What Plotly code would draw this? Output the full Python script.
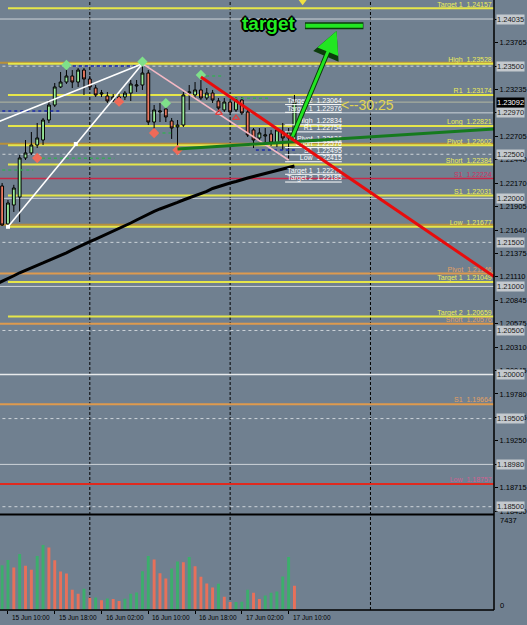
import plotly.graph_objects as go

# ---------------- data ----------------
bar_hours = [9, 10, 11, 12, 13, 14, 15, 16, 17, 18, 19, 20, 21, 22, 23, 24, 25, 26, 27, 28,
             29, 30, 31, 32, 33, 34, 35, 36, 37, 38, 39, 40, 41, 42, 43, 44, 45, 46, 47, 48,
             49, 50, 51, 52, 53, 54, 55, 56, 57, 58, 59]
opens = [1.22140, 1.21709, 1.21924, 1.22015, 1.22458, 1.22515, 1.22605, 1.22662, 1.22889, 1.23059,
         1.23264, 1.23320, 1.23388, 1.23320, 1.23456, 1.23354, 1.23252, 1.23184, 1.23161, 1.23116,
         1.23150, 1.23150, 1.23195, 1.23275, 1.23286, 1.23422, 1.22866, 1.22980, 1.23014, 1.22878,
         1.22810, 1.22832, 1.23195, 1.23173, 1.23230, 1.23139, 1.23195, 1.23105, 1.23003, 1.23093,
         1.23003, 1.23116, 1.22980, 1.22776, 1.22685, 1.22707, 1.22730, 1.22628, 1.22753, 1.22685,
         1.22662]
highs = [1.22174, 1.21981, 1.22153, 1.22492, 1.22662, 1.22753, 1.22855, 1.22912, 1.23116, 1.23309,
         1.23434, 1.23479, 1.23456, 1.23479, 1.23479, 1.23388, 1.23286, 1.23230, 1.23207, 1.23184,
         1.23184, 1.23218, 1.23343, 1.23343, 1.23528, 1.23456, 1.23059, 1.23082, 1.23059, 1.22912,
         1.22889, 1.23207, 1.23286, 1.23320, 1.23366, 1.23252, 1.23230, 1.23139, 1.23139, 1.23116,
         1.23150, 1.23150, 1.23003, 1.22798, 1.22798, 1.22798, 1.22776, 1.22798, 1.22855, 1.22798,
         1.23173]
lows = [1.21686, 1.21677, 1.21845, 1.21731, 1.22435, 1.22492, 1.22571, 1.22605, 1.22855, 1.23037,
        1.23252, 1.23298, 1.23252, 1.23264, 1.23173, 1.23230, 1.23150, 1.23150, 1.23082, 1.23093,
        1.23116, 1.23116, 1.23105, 1.23207, 1.23230, 1.22832, 1.22742, 1.22866, 1.22866, 1.22674,
        1.22560, 1.22810, 1.23003, 1.23139, 1.23116, 1.23116, 1.23082, 1.22980, 1.22980, 1.22946,
        1.22980, 1.22946, 1.22696, 1.22571, 1.22640, 1.22628, 1.22594, 1.22583, 1.22549, 1.22449,
        1.22640]
closes = [1.21697, 1.21947, 1.22117, 1.22458, 1.22515, 1.22605, 1.22685, 1.22889, 1.23059, 1.23264,
          1.23320, 1.23388, 1.23320, 1.23456, 1.23354, 1.23264, 1.23173, 1.23195, 1.23105, 1.23150,
          1.23127, 1.23195, 1.23298, 1.23286, 1.23422, 1.22866, 1.23003, 1.22991, 1.22923, 1.22798,
          1.22832, 1.23173, 1.23207, 1.23230, 1.23139, 1.23195, 1.23116, 1.23025, 1.23093, 1.22980,
          1.23116, 1.22969, 1.22719, 1.22662, 1.22742, 1.22719, 1.22628, 1.22776, 1.22685, 1.22753,
          1.23092]
volumes = [3807, 4258, 3610, 4766, 3751, 3412, 4597, 5527, 5302, 4230,
           3271, 3102, 1720, 1382, 1805, 1043, 1060, 818, 987, 931,
           761, 959, 1382, 1495, 3299, 4597, 4286, 3130, 2679, 3525,
           4117, 4061, 4512, 3722, 2820, 2256, 1918, 2228, 1128, 677,
           690, 705, 1720, 1466, 931, 1241, 1466, 1579, 2848, 4512, 2059]
vol_dir = ["g", "g", "r", "g", "r", "r", "g", "g", "r", "r",
           "r", "r", "r", "r", "g", "r", "g", "r", "g", "r",
           "r", "g", "g", "g", "g", "g", "r", "r", "r", "g",
           "g", "r", "g", "r", "r", "r", "r", "g", "r", "r",
           "g", "g", "g", "r", "r", "g", "g", "g", "g", "g", "r"]
vol_max_label = 7437

ma_hours = [8, 9, 10, 11, 12, 13, 14, 15, 16, 17, 18, 19, 20, 21, 22, 23, 24, 25, 26, 27,
            28, 29, 30, 31, 32, 33, 34, 35, 36, 37, 38, 39, 40, 41, 42, 43, 44, 45, 46, 47,
            48, 49, 50, 51, 52, 53, 54, 55, 56, 57, 58, 59]
ma_values = [1.21028, 1.21056, 1.21090, 1.21121, 1.21155, 1.21181, 1.21209, 1.21238, 1.21266, 1.21296,
             1.21323, 1.21351, 1.21382, 1.21414, 1.21448, 1.21476, 1.21508, 1.21538, 1.21567, 1.21601,
             1.21629, 1.21658, 1.21686, 1.21720, 1.21754, 1.21788, 1.21822, 1.21851, 1.21879, 1.21902,
             1.21924, 1.21953, 1.21981, 1.22004, 1.22026, 1.22049, 1.22078, 1.22112, 1.22134, 1.22157,
             1.22174, 1.22191, 1.22214, 1.22231, 1.22248, 1.22265, 1.22282, 1.22299, 1.22316, 1.22333,
             1.22350, 1.22367]

tick_prices = [1.24035, 1.23765, 1.23500, 1.23235, 1.22970, 1.22705, 1.22440, 1.22170, 1.21905,
               1.21640, 1.21375, 1.21110, 1.20845, 1.20575, 1.20310, 1.20045, 1.19780, 1.19515,
               1.19250, 1.18980, 1.18715, 1.18450]
solid_lines = [1.24035, 1.22970, 1.22000, 1.21000, 1.20000, 1.18980]
dashed_lines = [1.23500, 1.22500, 1.21500, 1.20500, 1.19500, 1.18500]
bid_price = 1.23092

level_names = ["Target 1", "High", "R1", "Long", "Pivot", "Short", "S1", "S1", "Low",
               "Pivot", "Target 1", "Target 2", "Short", "S1", "Low"]
level_values = [1.24157, 1.23528, 1.23174, 1.22821, 1.22602, 1.22384, 1.22224, 1.22031, 1.21677,
                1.21146, 1.21049, 1.20659, 1.20576, 1.19664, 1.18757]
level_kind = ["y", "y", "y", "y", "y", "y", "c", "y", "y", "o", "y", "y", "o", "o", "r"]

mini_names = ["Target 2", "Target 1", "High", "R1", "Pivot", "Short", "S1", "Low", "Target 1", "Target 2"]
mini_values = [1.23064, 1.22976, 1.22834, 1.22754, 1.22636, 1.22576, 1.22495, 1.22415, 1.22273, 1.22185]

x_tick_hours = [10, 18, 26, 34, 42, 50, 58]
x_tick_labels = ["15 Jun 10:00", "15 Jun 18:00", "16 Jun 02:00", "16 Jun 10:00",
                 "16 Jun 18:00", "17 Jun 02:00", "17 Jun 10:00"]
day_sep_hours = [24, 48, 72]

frac_up_h = [20, 33, 37, 43]
frac_up_p = [1.23513, 1.23551, 1.23079, 1.23400]
frac_dn_h = [15, 29, 35, 39]
frac_dn_p = [1.22458, 1.23097, 1.22742, 1.22549]
arrow_mark_h = [46.1, 49.0]
arrow_mark_p = [1.22969, 1.22912]

# fractal dotted levels: (start hour, end hour, price, colour key)
dotted_levels = [(20.1, 32.5, 1.23502, "b"), (8.0, 18.9, 1.22991, "b"), (15.8, 28.2, 1.22454, "g"),
                 (8.0, 14.3, 1.22322, "g"), (35.4, 37.9, 1.22742, "g"), (43.9, 47.0, 1.23388, "g"),
                 (47.8, 54.6, 1.23135, "g"), (52.4, 59.2, 1.22549, "b")]

zig_a_h, zig_a_p = [8.0, 33], [1.22860, 1.23528]
zig_b_h, zig_b_p = [10, 33], [1.21677, 1.23528]
zig_pts_h, zig_pts_p = [10, 21.6, 33], [1.21677, 1.22617, 1.23528]
pink_h, pink_p = [33, 58], [1.23528, 1.22435]
red_h, red_p = [43, 93.2], [1.23377, 1.21110]
green_h, green_p = [39, 93.2], [1.22560, 1.22787]

arrow_tail = (58.55, 1.22685)
arrow_tip = (66.2, 1.23899)
target_text_pos = (54.6, 1.23979)
target_bar_h, target_bar_p = [60.8, 70.8], 1.23959
timer_text, timer_pos = "<--30:25", (71.5, 1.23059)
top_tri = (60.4, 1.24232)

# ---------------- layout constants ----------------
W, H = 527, 625
MR, MB = 31, 15
PH = H - MB               # plot-area height (610)
X_RANGE = [8.637, 93.13]
Y_RANGE = [1.18417, 1.24251]
MAIN_BOTTOM_PX = 514
VOL_TOP_PX = 515.5
VOL_RANGE = [0, 8030]

BG = "#708090"
YEL = "#e6e64a"
ORG = "#de9a4e"
CRIM = "#c8284a"
RED = "#e02a1e"
LIGHT = "#cdd3d9"
kind_color = {"y": YEL, "o": ORG, "c": CRIM, "r": RED}
text_color = {"y": "#ecec5a", "o": "#e4a062", "c": "#d03060", "r": "#d06090"}
dot_color = {"b": "#1a2aa8", "g": "#3aa85a"}
FONT = "Liberation Sans"
boxed = set(round(v, 5) for v in solid_lines + dashed_lines)


def ppx(y_px):
    return (PH - y_px) / PH


fig = go.Figure()

# dotted fractal levels
for h0, h1, p, k in dotted_levels:
    fig.add_trace(go.Scatter(x=[h0, h1], y=[p, p], mode="lines",
                             line=dict(color=dot_color[k], width=1.5, dash="dot"),
                             hoverinfo="skip", showlegend=False))

# candles
fig.add_trace(go.Candlestick(
    x=bar_hours, open=opens, high=highs, low=lows, close=closes,
    increasing=dict(line=dict(color="black", width=1), fillcolor="#98ea98"),
    decreasing=dict(line=dict(color="black", width=1), fillcolor="#ea7860"),
    whiskerwidth=0, showlegend=False, hoverinfo="skip"))

# moving average
fig.add_trace(go.Scatter(x=ma_hours, y=ma_values, mode="lines",
                         line=dict(color="black", width=3), hoverinfo="skip", showlegend=False))

# zigzag and pink line
for hx, py, col in [(zig_a_h, zig_a_p, "white"), (zig_b_h, zig_b_p, "white"), (pink_h, pink_p, "#f4b8c4")]:
    fig.add_trace(go.Scatter(x=hx, y=py, mode="lines", line=dict(color=col, width=1.6),
                             hoverinfo="skip", showlegend=False))
fig.add_trace(go.Scatter(x=zig_pts_h, y=zig_pts_p, mode="markers",
                         marker=dict(symbol="square", size=4, color="white"),
                         hoverinfo="skip", showlegend=False))

# fractal markers
fig.add_trace(go.Scatter(x=frac_up_h, y=frac_up_p, mode="markers",
                         marker=dict(symbol="diamond", size=8, color="#7fe08a"),
                         hoverinfo="skip", showlegend=False))
fig.add_trace(go.Scatter(x=frac_dn_h, y=frac_dn_p, mode="markers",
                         marker=dict(symbol="diamond", size=8, color="#f06a58"),
                         hoverinfo="skip", showlegend=False))
fig.add_trace(go.Scatter(x=arrow_mark_h, y=arrow_mark_p, mode="markers",
                         marker=dict(symbol="triangle-up-open", size=6, color="#e04040",
                                     line=dict(width=1.3, color="#e04040")),
                         hoverinfo="skip", showlegend=False))
fig.add_trace(go.Scatter(x=[top_tri[0]], y=[top_tri[1]], mode="markers",
                         marker=dict(symbol="triangle-down", size=7, color="#f0e040"),
                         hoverinfo="skip", showlegend=False))

# mini pivot label set
MINI_X0, MINI_X1 = 57.4, 67.1
for v in mini_values:
    fig.add_trace(go.Scatter(x=[MINI_X0, MINI_X1], y=[v, v], mode="lines",
                             line=dict(color="white", width=1), hoverinfo="skip", showlegend=False))
fig.add_trace(go.Scatter(x=[MINI_X1] * len(mini_values), y=mini_values, mode="text",
                         text=[f"{n}  {v:.5f}" for n, v in zip(mini_names, mini_values)],
                         textposition="top left",
                         textfont=dict(family=FONT, size=7, color="white"),
                         hoverinfo="skip", showlegend=False))

# big level labels
fig.add_trace(go.Scatter(x=[92.75] * len(level_values), y=level_values, mode="text",
                         text=[f"{n}  {v:.5f}" for n, v in zip(level_names, level_values)],
                         textposition="top left",
                         textfont=dict(family=FONT, size=7, color=[text_color[k] for k in level_kind]),
                         hoverinfo="skip", showlegend=False))

# trend lines on top
fig.add_trace(go.Scatter(x=green_h, y=green_p, mode="lines", line=dict(color="#157a1e", width=3),
                         hoverinfo="skip", showlegend=False))
fig.add_trace(go.Scatter(x=red_h, y=red_p, mode="lines", line=dict(color="#e80c0c", width=3),
                         hoverinfo="skip", showlegend=False))

# volume bars
fig.add_trace(go.Bar(x=bar_hours, y=volumes, yaxis="y2", width=0.5,
                     marker=dict(color=["#3cae6c" if d == "g" else "#e8705a" for d in vol_dir],
                                 line=dict(width=0)),
                     hoverinfo="skip", showlegend=False))

shapes = []
for v in solid_lines:
    shapes.append(dict(type="line", xref="x", yref="y", x0=7, x1=95, y0=v, y1=v, layer="below",
                       line=dict(color="#e8eaec" if v == 1.20000 else LIGHT, width=1.5 if v == 1.20000 else 1)))
for v in dashed_lines:
    shapes.append(dict(type="line", xref="x", yref="y", x0=7, x1=95, y0=v, y1=v, layer="below",
                       line=dict(color=LIGHT, width=1, dash="3px,3px")))
shapes.append(dict(type="line", xref="x", yref="y", x0=7, x1=95, y0=bid_price, y1=bid_price,
                   layer="below", line=dict(color="#b4b8a0", width=1)))
for v in [1.23540, 1.22618, 1.21700]:
    shapes.append(dict(type="line", xref="x", yref="y", x0=7, x1=95, y0=v, y1=v, layer="below",
                       line=dict(color="#b8903a", width=2)))
for v, k in zip(level_values, level_kind):
    x0 = 10 if k == "y" else 7
    shapes.append(dict(type="line", xref="x", yref="y", x0=x0, x1=95, y0=v, y1=v, layer="below",
                       line=dict(color=kind_color[k], width=2 if k != "c" else 1.5)))
for h in day_sep_hours:
    shapes.append(dict(type="line", xref="x", yref="paper", x0=h, x1=h, y0=0, y1=1, layer="below",
                       line=dict(color="black", width=1, dash="3px,2px")))
shapes.append(dict(type="line", xref="paper", yref="paper", x0=1, x1=1, y0=0, y1=1,
                   line=dict(color="black", width=1.5)))
shapes.append(dict(type="line", xref="paper", yref="paper", x0=0, x1=1, y0=ppx(514.5), y1=ppx(514.5),
                   line=dict(color="black", width=2)))
shapes.append(dict(type="line", xref="paper", yref="paper", x0=0, x1=1, y0=0, y1=0,
                   line=dict(color="black", width=1.5)))
shapes.append(dict(type="line", xref="x", yref="y", x0=target_bar_h[0], x1=target_bar_h[1],
                   y0=target_bar_p, y1=target_bar_p, layer="above", line=dict(color="#0b3d0b", width=7)))
shapes.append(dict(type="line", xref="x", yref="y", x0=target_bar_h[0] + 0.1, x1=target_bar_h[1] - 0.1,
                   y0=target_bar_p, y1=target_bar_p, layer="above", line=dict(color="#22e622", width=4)))

ann = []
for col, w, s in [("#0b3d0b", 5, 1.1), ("#22e622", 3, 1.5)]:
    ann.append(dict(x=arrow_tip[0], y=arrow_tip[1], ax=arrow_tail[0], ay=arrow_tail[1],
                    xref="x", yref="y", axref="x", ayref="y", text="", showarrow=True,
                    arrowhead=2, arrowsize=s, arrowwidth=w, arrowcolor=col))
ann.append(dict(x=target_text_pos[0], y=target_text_pos[1], xref="x", yref="y", text="target",
                showarrow=False,
                font=dict(family=FONT, size=19, color="#22ee22", weight="bold",
                          shadow="2px 0 0 #000, -2px 0 0 #000, 0 2px 0 #000, 0 -2px 0 #000, "
                                 "1px 1px 0 #000, -1px -1px 0 #000, 1px -1px 0 #000, -1px 1px 0 #000")))
ann.append(dict(x=timer_pos[0], y=timer_pos[1], xref="x", yref="y", text=timer_text, showarrow=False,
                font=dict(family=FONT, size=14, color="#e2d650")))
for v in solid_lines + dashed_lines:
    ann.append(dict(x=1, y=v, xref="paper", yref="y", xanchor="left", yanchor="middle", xshift=2,
                    text=f"{v:.5f}", showarrow=False, bgcolor="#c4c9ce", borderpad=0,
                    font=dict(family=FONT, size=7.5, color="#202020")))
ann.append(dict(x=1, y=bid_price, xref="paper", yref="y", xanchor="left", yanchor="middle", xshift=2,
                text=f"{bid_price:.5f}", showarrow=False, bgcolor="black", borderpad=0,
                font=dict(family=FONT, size=7.5, color="white")))
ann.append(dict(x=1, y=ppx(520), xref="paper", yref="paper", xanchor="left", yanchor="middle", xshift=4,
                text=str(vol_max_label), showarrow=False, font=dict(family=FONT, size=7.5, color="black")))
ann.append(dict(x=1, y=ppx(605), xref="paper", yref="paper", xanchor="left", yanchor="middle", xshift=4,
                text="0", showarrow=False, font=dict(family=FONT, size=7.5, color="black")))
for h, t in zip(x_tick_hours, x_tick_labels):
    ann.append(dict(x=h, y=ppx(617.5), xref="x", yref="paper", xanchor="left", yanchor="middle",
                    xshift=2, text=t, showarrow=False, font=dict(family=FONT, size=6.5, color="black")))

fig.update_layout(
    width=W, height=H, margin=dict(l=0, r=MR, t=0, b=MB),
    paper_bgcolor=BG, plot_bgcolor=BG, showlegend=False, hovermode=False,
    boxgap=0.3,
    xaxis=dict(range=X_RANGE, domain=[0, 1], anchor="y2", showgrid=False, zeroline=False,
               showline=False, tickvals=x_tick_hours, ticks="outside", ticklen=3, tickcolor="black",
               showticklabels=False, rangeslider=dict(visible=False), fixedrange=True),
    yaxis=dict(range=Y_RANGE, domain=[ppx(MAIN_BOTTOM_PX), 1], side="right", anchor="x",
               showgrid=False, zeroline=False, showline=False, tickvals=tick_prices,
               ticktext=["" if round(v, 5) in boxed else f"{v:.5f}" for v in tick_prices],
               ticks="outside", ticklen=3,
               tickcolor="black", tickfont=dict(family=FONT, size=7.5, color="black"), fixedrange=True),
    yaxis2=dict(range=VOL_RANGE, domain=[0, ppx(VOL_TOP_PX)], side="right", anchor="x",
                showgrid=False, zeroline=False, showline=False, showticklabels=False, fixedrange=True),
    shapes=shapes, annotations=ann,
)

fig.write_html("out.html")
